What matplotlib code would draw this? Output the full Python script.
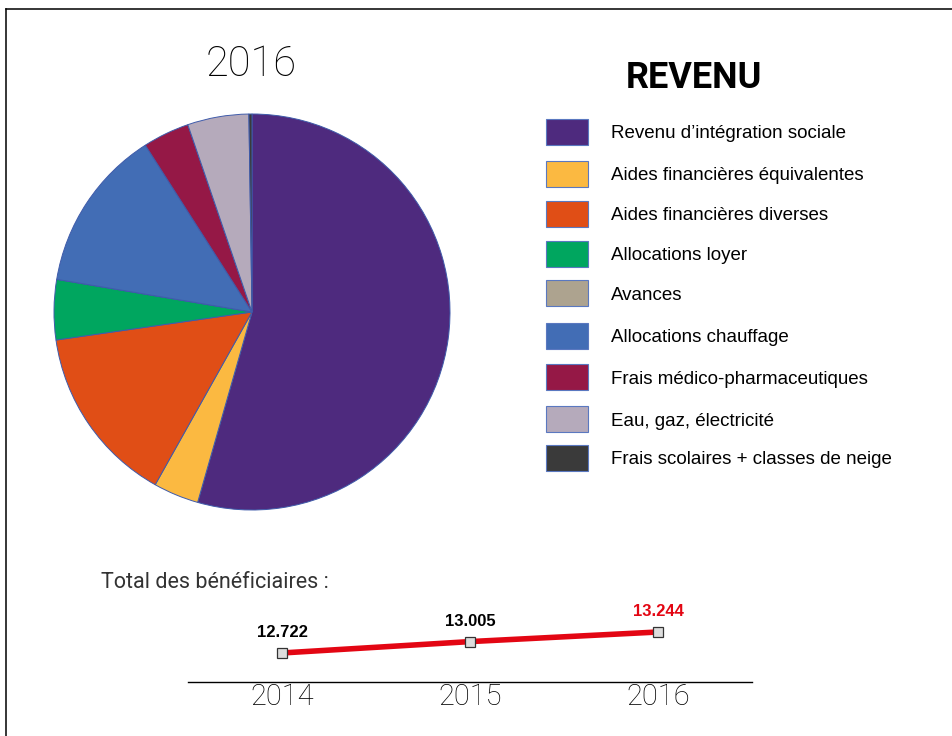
import matplotlib
matplotlib.use("Agg")
import matplotlib.pyplot as plt
from matplotlib.patches import Rectangle
from matplotlib.lines import Line2D

# pie data (2016, share in %)
categories = [
    "Revenu d\u2019int\u00e9gration sociale",
    "Aides financi\u00e8res \u00e9quivalentes",
    "Aides financi\u00e8res diverses",
    "Allocations loyer",
    "Avances",
    "Allocations chauffage",
    "Frais m\u00e9dico-pharmaceutiques",
    "Eau, gaz, \u00e9lectricit\u00e9",
    "Frais scolaires + classes de neige",
]
shares = [54.4, 3.7, 14.6, 4.9, 0.0, 13.3, 3.8, 5.0, 0.25]
colors = ["#4E2A7E", "#FBB941", "#E04E16", "#00A65F", "#ADA38F",
          "#426DB5", "#951846", "#B5AABB", "#3A3A3A"]

# line data
years = [2014, 2015, 2016]
totals = [12722, 13005, 13244]
total_labels = ["12.722", "13.005", "13.244"]

W, H = 953, 736
fig = plt.figure(figsize=(W / 100, H / 100), dpi=100)

def fx(px):
    return px / W

def fy(py):
    return 1 - py / H

# frame lines (left and top)
fig.add_artist(Line2D([fx(6), fx(6)], [fy(9), 0], color="black", lw=1.1))
fig.add_artist(Line2D([fx(6), 1], [fy(9), fy(9)], color="black", lw=1.1))

# pie
cx, cy, r = 252, 312, 198
ax = fig.add_axes([fx(cx - r), fy(cy + r), 2 * r / W, 2 * r / H])
ax.pie(shares, colors=colors, startangle=90, counterclock=False, radius=1,
       wedgeprops=dict(edgecolor="#3F5BAA", linewidth=0.7))
ax.set_xlim(-1, 1)
ax.set_ylim(-1, 1)
ax.set_aspect("auto")
ax.axis("off")

fig.text(fx(251), fy(64), "2016", ha="center", va="center",
         fontsize=30, family="Roboto", fontweight="light", color="black")
fig.text(fx(694), fy(78), "REVENU", ha="center", va="center",
         fontsize=26, family="Roboto", fontweight="bold")

# legend
row_y = [132, 174, 214, 254, 293, 336, 377, 419, 458]
for name, col, yy in zip(categories, colors, row_y):
    fig.add_artist(Rectangle((fx(546), fy(yy + 13)), 42 / W, 26 / H,
                             facecolor=col, edgecolor="#5A78C0", lw=0.8))
    fig.text(fx(611), fy(yy + 2), name, ha="left", va="center",
             fontsize=13.5, family="Liberation Sans")

fig.text(fx(101), fy(583), "Total des b\u00e9n\u00e9ficiaires :", ha="left",
         va="center", fontsize=15.5, family="Roboto", fontweight="normal",
         color="#333333")

# line chart
ax2 = fig.add_axes([fx(188), fy(682), (752 - 188) / W, 80.4 / H])
ax2.plot(years, totals, color="#E30613", lw=4.0, marker="s", markersize=6.5,
         markerfacecolor="#DDDDDD", markeredgecolor="#333333",
         markeredgewidth=0.9, zorder=3)
for x, v, lab in zip(years, totals, total_labels):
    col = "#E30613" if x == years[-1] else "black"
    ax2.annotate(lab, (x, v), xytext=(0, 14.5), textcoords="offset points",
                 ha="center", va="center", fontsize=12, fontweight="bold",
                 family="Liberation Sans", color=col)
ax2.set_xlim(2013.5, 2016.5)
ax2.set_ylim(12000, 14000)
ax2.set_xticks(years)
ax2.set_xticklabels([str(y) for y in years], fontsize=21, family="Roboto",
                    fontweight="light", color="black")
ax2.tick_params(axis="x", length=0, pad=1)
ax2.set_yticks([])
for s in ["left", "right", "top"]:
    ax2.spines[s].set_visible(False)
ax2.spines["bottom"].set_linewidth(1.0)
ax2.patch.set_alpha(0)

fig.savefig("out.png", dpi=100)
